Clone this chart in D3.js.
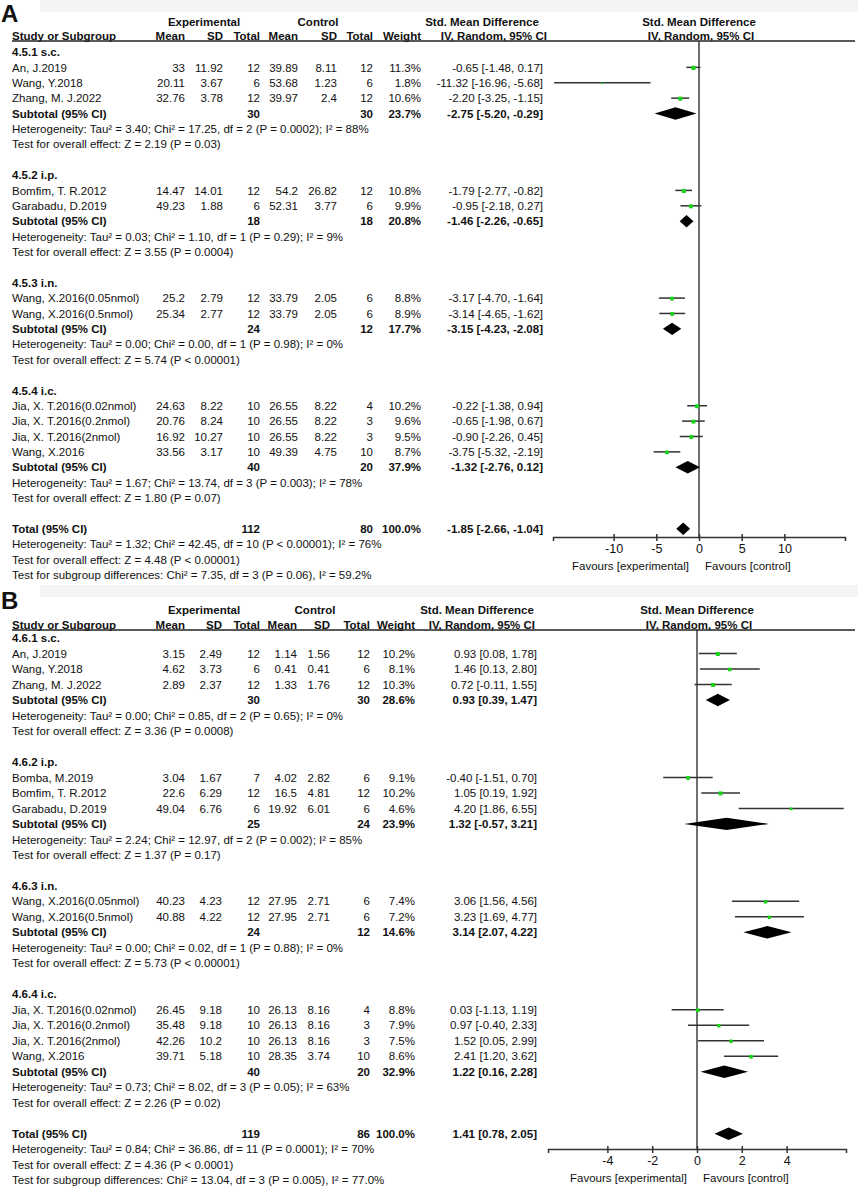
<!DOCTYPE html>
<html><head><meta charset="utf-8">
<script src="https://cdn.jsdelivr.net/npm/d3@7/dist/d3.min.js"></script>
<style>body{margin:0;background:#fff}svg text{font-family:"Liberation Sans",Arial,sans-serif;fill:#111}</style>
</head><body>
<script>
// ---------- Panel A data ----------
const groupsA = ["4.5.1 s.c.", "4.5.2 i.p.", "4.5.3 i.n.", "4.5.4 i.c."];
const studyGroupA = [0,0,0,1,1,2,2,3,3,3,3];
const studyA = ["An, J.2019","Wang, Y.2018","Zhang, M. J.2022","Bomfim, T. R.2012","Garabadu, D.2019",
  "Wang, X.2016(0.05nmol)","Wang, X.2016(0.5nmol)","Jia, X. T.2016(0.02nmol)","Jia, X. T.2016(0.2nmol)",
  "Jia, X. T.2016(2nmol)","Wang, X.2016"];
const expMeanA = [33,20.11,32.76,14.47,49.23,25.2,25.34,24.63,20.76,16.92,33.56];
const expSDA   = [11.92,3.67,3.78,14.01,1.88,2.79,2.77,8.22,8.24,10.27,3.17];
const expNA    = [12,6,12,12,6,12,12,10,10,10,10];
const ctlMeanA = [39.89,53.68,39.97,54.2,52.31,33.79,33.79,26.55,26.55,26.55,49.39];
const ctlSDA   = [8.11,1.23,2.4,26.82,3.77,2.05,2.05,8.22,8.22,8.22,4.75];
const ctlNA    = [12,6,12,12,6,6,6,4,3,3,10];
const weightA  = [11.3,1.8,10.6,10.8,9.9,8.8,8.9,10.2,9.6,9.5,8.7];
const smdA     = [-0.65,-11.32,-2.20,-1.79,-0.95,-3.17,-3.14,-0.22,-0.65,-0.90,-3.75];
const lowA     = [-1.48,-16.96,-3.25,-2.77,-2.18,-4.70,-4.65,-1.38,-1.98,-2.26,-5.32];
const highA    = [0.17,-5.68,-1.15,-0.82,0.27,-1.64,-1.62,0.94,0.67,0.45,-2.19];
const subExpNA = [30,18,24,40];
const subCtlNA = [30,18,12,20];
const subWeightA = [23.7,20.8,17.7,37.9];
const subSmdA  = [-2.75,-1.46,-3.15,-1.32];
const subLowA  = [-5.20,-2.26,-4.23,-2.76];
const subHighA = [-0.29,-0.65,-2.08,0.12];
const subHetA = [
  "Heterogeneity: Tau² = 3.40; Chi² = 17.25, df = 2 (P = 0.0002); I² = 88%",
  "Heterogeneity: Tau² = 0.03; Chi² = 1.10, df = 1 (P = 0.29); I² = 9%",
  "Heterogeneity: Tau² = 0.00; Chi² = 0.00, df = 1 (P = 0.98); I² = 0%",
  "Heterogeneity: Tau² = 1.67; Chi² = 13.74, df = 3 (P = 0.003); I² = 78%"];
const subTestA = ["Test for overall effect: Z = 2.19 (P = 0.03)","Test for overall effect: Z = 3.55 (P = 0.0004)",
  "Test for overall effect: Z = 5.74 (P < 0.00001)","Test for overall effect: Z = 1.80 (P = 0.07)"];
const totalA = {expN:112, ctlN:80, weight:100.0, smd:-1.85, low:-2.66, high:-1.04};
const totalTextA = ["Heterogeneity: Tau² = 1.32; Chi² = 42.45, df = 10 (P < 0.00001); I² = 76%",
  "Test for overall effect: Z = 4.48 (P < 0.00001)",
  "Test for subgroup differences: Chi² = 7.35, df = 3 (P = 0.06), I² = 59.2%"];
const ticksA = [-10,-5,0,5,10];

// ---------- Panel B data ----------
const groupsB = ["4.6.1 s.c.", "4.6.2 i.p.", "4.6.3 i.n.", "4.6.4 i.c."];
const studyGroupB = [0,0,0,1,1,1,2,2,3,3,3,3];
const studyB = ["An, J.2019","Wang, Y.2018","Zhang, M. J.2022","Bomba, M.2019","Bomfim, T. R.2012","Garabadu, D.2019",
  "Wang, X.2016(0.05nmol)","Wang, X.2016(0.5nmol)","Jia, X. T.2016(0.02nmol)","Jia, X. T.2016(0.2nmol)",
  "Jia, X. T.2016(2nmol)","Wang, X.2016"];
const expMeanB = [3.15,4.62,2.89,3.04,22.6,49.04,40.23,40.88,26.45,35.48,42.26,39.71];
const expSDB   = [2.49,3.73,2.37,1.67,6.29,6.76,4.23,4.22,9.18,9.18,10.2,5.18];
const expNB    = [12,6,12,7,12,6,12,12,10,10,10,10];
const ctlMeanB = [1.14,0.41,1.33,4.02,16.5,19.92,27.95,27.95,26.13,26.13,26.13,28.35];
const ctlSDB   = [1.56,0.41,1.76,2.82,4.81,6.01,2.71,2.71,8.16,8.16,8.16,3.74];
const ctlNB    = [12,6,12,6,12,6,6,6,4,3,3,10];
const weightB  = [10.2,8.1,10.3,9.1,10.2,4.6,7.4,7.2,8.8,7.9,7.5,8.6];
const smdB     = [0.93,1.46,0.72,-0.40,1.05,4.20,3.06,3.23,0.03,0.97,1.52,2.41];
const lowB     = [0.08,0.13,-0.11,-1.51,0.19,1.86,1.56,1.69,-1.13,-0.40,0.05,1.20];
const highB    = [1.78,2.80,1.55,0.70,1.92,6.55,4.56,4.77,1.19,2.33,2.99,3.62];
const subExpNB = [30,25,24,40];
const subCtlNB = [30,24,12,20];
const subWeightB = [28.6,23.9,14.6,32.9];
const subSmdB  = [0.93,1.32,3.14,1.22];
const subLowB  = [0.39,-0.57,2.07,0.16];
const subHighB = [1.47,3.21,4.22,2.28];
const subHetB = [
  "Heterogeneity: Tau² = 0.00; Chi² = 0.85, df = 2 (P = 0.65); I² = 0%",
  "Heterogeneity: Tau² = 2.24; Chi² = 12.97, df = 2 (P = 0.002); I² = 85%",
  "Heterogeneity: Tau² = 0.00; Chi² = 0.02, df = 1 (P = 0.88); I² = 0%",
  "Heterogeneity: Tau² = 0.73; Chi² = 8.02, df = 3 (P = 0.05); I² = 63%"];
const subTestB = ["Test for overall effect: Z = 3.36 (P = 0.0008)","Test for overall effect: Z = 1.37 (P = 0.17)",
  "Test for overall effect: Z = 5.73 (P < 0.00001)","Test for overall effect: Z = 2.26 (P = 0.02)"];
const totalB = {expN:119, ctlN:86, weight:100.0, smd:1.41, low:0.78, high:2.05};
const totalTextB = ["Heterogeneity: Tau² = 0.84; Chi² = 36.86, df = 11 (P = 0.0001); I² = 70%",
  "Test for overall effect: Z = 4.36 (P < 0.0001)",
  "Test for subgroup differences: Chi² = 13.04, df = 3 (P = 0.005), I² = 77.0%"];
const ticksB = [-4,-2,0,2,4];

// ---------- drawing ----------
const svg = d3.select("body").append("svg").attr("width",858).attr("height",1193);
const FS = 11.5;
const fmtCI = (m,l,h) => `${m.toFixed(2)} [${l.toFixed(2)}, ${h.toFixed(2)}]`;

function drawPanel(p){
  const g = svg.append("g");
  g.append("rect").attr("x",40).attr("y",p.bandY).attr("width",818).attr("height",12).attr("fill","#f4f4f4");
  g.append("text").attr("x",1).attr("y",p.letterY).text(p.letter)
    .style("font-size","24px").style("font-weight","bold");
  const c = p.cols;
  const T = (x,y,txt,anchor,bold,size) => g.append("text").attr("x",x).attr("y",y).attr("dy","0.36em")
    .attr("text-anchor",anchor||"end").style("font-size",(size||FS)+"px").style("font-weight",bold?"bold":"normal").text(txt);
  // headers
  T(c.expC,p.h1,"Experimental","middle",true);
  T(c.ctlC,p.h1,"Control","middle",true);
  T(c.smdC,p.h1,"Std. Mean Difference","middle",true);
  T(p.plotC,p.h1,"Std. Mean Difference","middle",true);
  T(12,p.h2,"Study or Subgroup","start",true);
  T(c.mean,p.h2,"Mean","end",true); T(c.sd,p.h2,"SD","end",true); T(c.tot,p.h2,"Total","end",true);
  T(c.cmean,p.h2,"Mean","end",true); T(c.csd,p.h2,"SD","end",true); T(c.ctot,p.h2,"Total","end",true);
  T(c.w,p.h2,"Weight","end",true); T(c.ivR,p.h2,"IV, Random, 95% CI","end",true);
  T(p.plotC+2,p.h2,"IV, Random, 95% CI","middle",true);
  g.append("line").attr("x1",12).attr("x2",855).attr("y1",p.lineY).attr("y2",p.lineY)
    .attr("stroke","#222").attr("stroke-width",1.4);

  const x = d3.scaleLinear().domain(p.domain).range(p.range);
  const y = i => p.row0 + i*p.step;
  const H = 6.2;

  g.append("line").attr("x1",x(0)).attr("x2",x(0)).attr("y1",p.lineY).attr("y2",p.axisY)
    .attr("stroke","#333").attr("stroke-width",1.4);

  function diamond(m,l,h,yy){
    g.append("path").attr("d",`M${x(l)},${yy}L${x(m)},${yy-H}L${x(h)},${yy}L${x(m)},${yy+H}Z`).attr("fill","#000");
  }

  let r = 0;
  p.groups.forEach((gname,gi) => {
    T(12,y(r),gname,"start",true); r++;
    p.studyGroup.forEach((sg,si) => {
      if (sg!==gi) return;
      const yy = y(r);
      T(12,yy,p.study[si],"start");
      T(c.mean,yy,String(p.expMean[si])); T(c.sd,yy,String(p.expSD[si])); T(c.tot,yy,String(p.expN[si]));
      T(c.cmean,yy,String(p.ctlMean[si])); T(c.csd,yy,String(p.ctlSD[si])); T(c.ctot,yy,String(p.ctlN[si]));
      T(c.w,yy,p.weight[si].toFixed(1)+"%");
      T(c.ci,yy,fmtCI(p.smd[si],p.low[si],p.high[si]));
      g.append("line").attr("x1",x(p.low[si])).attr("x2",x(p.high[si])).attr("y1",yy).attr("y2",yy)
        .attr("stroke","#333").attr("stroke-width",1.5);
      const s = Math.sqrt(p.weight[si])*1.25;
      g.append("rect").attr("x",x(p.smd[si])-s/2).attr("y",yy-s/2+0.5).attr("width",s).attr("height",s)
        .attr("fill","#19d319");
      r++;
    });
    const yy = y(r);
    T(12,yy,"Subtotal (95% CI)","start",true);
    T(c.tot,yy,String(p.subExpN[gi]),"end",true); T(c.ctot,yy,String(p.subCtlN[gi]),"end",true);
    T(c.w,yy,p.subWeight[gi].toFixed(1)+"%","end",true);
    T(c.ci,yy,fmtCI(p.subSmd[gi],p.subLow[gi],p.subHigh[gi]),"end",true);
    diamond(p.subSmd[gi],p.subLow[gi],p.subHigh[gi],yy);
    r++;
    T(12,y(r),p.subHet[gi],"start"); r++;
    T(12,y(r),p.subTest[gi],"start"); r++;
    r++;
  });
  const yt = y(r);
  T(12,yt,"Total (95% CI)","start",true);
  T(c.tot,yt,String(p.total.expN),"end",true); T(c.ctot,yt,String(p.total.ctlN),"end",true);
  T(c.w,yt,p.total.weight.toFixed(1)+"%","end",true);
  T(c.ci,yt,fmtCI(p.total.smd,p.total.low,p.total.high),"end",true);
  diamond(p.total.smd,p.total.low,p.total.high,yt);
  r++;
  p.totalText.forEach(t => { T(12,y(r),t,"start"); r++; });

  const ax = g.append("g").attr("transform",`translate(0,${p.axisY})`)
    .call(d3.axisBottom(x).tickValues(p.ticks).tickSizeOuter(0).tickSize(4).tickPadding(3).tickFormat(d => String(d)));
  ax.select(".domain").attr("stroke","#333").attr("stroke-width",1.5);
  ax.selectAll(".tick line").attr("y1",-3).attr("stroke","#333").attr("stroke-width",1.5);
  ax.selectAll(".tick text").style("font-size","12.5px").style("font-family","'Liberation Sans',Arial,sans-serif").attr("fill","#111");
  T(x(0)-10,p.axisY+29,"Favours [experimental]","end",false,FS);
  T(x(0)+6,p.axisY+29,"Favours [control]","start",false,FS);
}

drawPanel({
  letter:"A", letterY:22, bandY:0, h1:22, h2:36, lineY:41,
  row0:52, step:15.38, axisY:537,
  domain:[-17.1,17.1], range:[553,845], plotC:699, ticks:ticksA,
  cols:{mean:185,sd:223,tot:260,cmean:298,csd:337,ctot:373,w:421,ci:543,ivR:547,expC:204,ctlC:318,smdC:482},
  groups:groupsA, studyGroup:studyGroupA, study:studyA, expMean:expMeanA, expSD:expSDA, expN:expNA,
  ctlMean:ctlMeanA, ctlSD:ctlSDA, ctlN:ctlNA, weight:weightA, smd:smdA, low:lowA, high:highA,
  subExpN:subExpNA, subCtlN:subCtlNA, subWeight:subWeightA, subSmd:subSmdA, subLow:subLowA, subHigh:subHighA,
  subHet:subHetA, subTest:subTestA, total:totalA, totalText:totalTextA
});
drawPanel({
  letter:"B", letterY:609, bandY:585, h1:610, h2:625, lineY:630,
  row0:638, step:15.49, axisY:1149,
  domain:[-6.65,6.65], range:[548,846], plotC:697, ticks:ticksB,
  cols:{mean:185,sd:222,tot:260,cmean:297,csd:330,ctot:370,w:415,ci:537,ivR:535,expC:204,ctlC:315,smdC:477},
  groups:groupsB, studyGroup:studyGroupB, study:studyB, expMean:expMeanB, expSD:expSDB, expN:expNB,
  ctlMean:ctlMeanB, ctlSD:ctlSDB, ctlN:ctlNB, weight:weightB, smd:smdB, low:lowB, high:highB,
  subExpN:subExpNB, subCtlN:subCtlNB, subWeight:subWeightB, subSmd:subSmdB, subLow:subLowB, subHigh:subHighB,
  subHet:subHetB, subTest:subTestB, total:totalB, totalText:totalTextB
});
</script>
</body></html>
